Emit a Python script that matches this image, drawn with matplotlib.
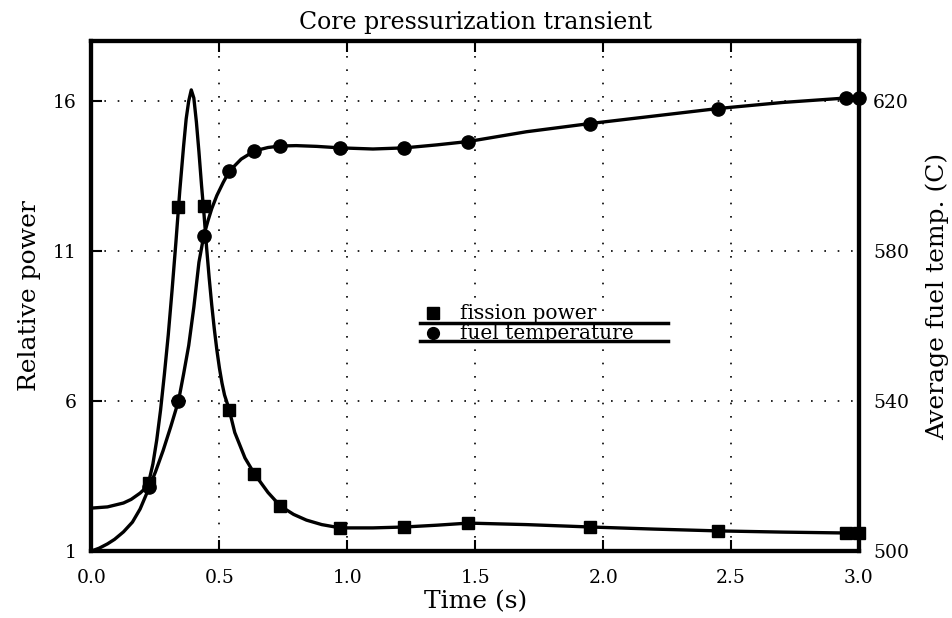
import matplotlib
matplotlib.use("Agg")
import matplotlib.pyplot as plt

# curve samples
power_t = [0.0, 0.0625, 0.125, 0.155, 0.19, 0.205, 0.223, 0.24, 0.255, 0.27, 0.285,
           0.30, 0.315, 0.33, 0.345, 0.36, 0.37, 0.38, 0.39, 0.40, 0.41, 0.42, 0.43,
           0.44, 0.45, 0.46, 0.47, 0.48, 0.49, 0.50, 0.51, 0.52, 0.537, 0.56, 0.60,
           0.637, 0.69, 0.738, 0.79, 0.84, 0.90, 0.973, 1.1, 1.223, 1.35, 1.473,
           1.7, 1.95, 2.2, 2.45, 2.7, 2.95, 3.0]
power = [2.43, 2.47, 2.6, 2.72, 2.93, 3.05, 3.27, 3.9, 4.7, 5.7, 6.9,
         8.2, 9.7, 11.3, 13.0, 14.5, 15.4, 16.0, 16.37, 16.1, 15.3, 14.3, 13.2,
         12.2, 11.1, 10.1, 9.2, 8.4, 7.7, 7.1, 6.6, 6.2, 5.75, 4.95, 4.1,
         3.57, 2.95, 2.5, 2.22, 2.03, 1.88, 1.77, 1.77, 1.8, 1.86, 1.93,
         1.88, 1.8, 1.73, 1.67, 1.63, 1.6, 1.6]

temp_t = [0.0, 0.03, 0.0625, 0.09, 0.125, 0.16, 0.19, 0.223, 0.25, 0.28, 0.31, 0.34,
          0.36, 0.38, 0.40, 0.42, 0.4387, 0.455, 0.47, 0.49, 0.515, 0.539, 0.585,
          0.637, 0.69, 0.738, 0.8, 0.88, 0.973, 1.1, 1.223, 1.35, 1.473, 1.7, 1.95,
          2.2, 2.45, 2.7, 2.95, 3.0]
temp = [500, 500.75, 501.9, 503.1, 505.1, 507.7, 511.2, 516.5, 521.1, 526.8, 533.2, 540,
        547.2, 554.8, 565, 577, 584, 588, 591.3, 594.8, 598.3, 601.3, 604.5,
        606.7, 607.6, 608, 608.1, 607.9, 607.5, 607.2, 607.5, 608.3, 609.2, 611.8, 614,
        616, 618, 619.6, 620.8, 621]

# marker points
mark_t = [0.223, 0.34, 0.4387, 0.537, 0.637, 0.738, 0.973, 1.223, 1.473, 1.95, 2.45, 2.95, 3.0]
power_marks = [3.27, 12.47, 12.5, 5.7, 3.57, 2.5, 1.77, 1.8, 1.93, 1.8, 1.67, 1.6, 1.6]
temp_marks = [517, 540, 584, 601.3, 606.7, 608, 607.5, 607.5, 609, 614, 618, 620.8, 620.8]

xticks = [0.0, 0.5, 1.0, 1.5, 2.0, 2.5, 3.0]
power_ticks = [1, 6, 11, 16]
temp_ticks = [500, 540, 580, 620]

plt.rcParams['font.family'] = 'DejaVu Serif'

fig = plt.figure(figsize=(9.53, 6.18), dpi=100)
ax = fig.add_axes([91.5 / 953, 1 - 551 / 618, (859 - 91.5) / 953, (551 - 41) / 618])
ax2 = ax.twinx()

ax.plot(power_t, power, color='k', lw=2.4)
ax.plot(mark_t, power_marks, 's', color='k', ms=9, clip_on=False)
ax2.plot(temp_t, temp, color='k', lw=2.4)
ax2.plot(mark_t, temp_marks, 'o', color='k', ms=9.5, clip_on=False)

ax.set_xlim(0, 3.0)
ax.set_ylim(1, 18)
ax2.set_ylim(500, 636)

ax.set_xticks(xticks)
ax.set_xticklabels(['%.1f' % v for v in xticks])
ax.set_yticks(power_ticks)
ax2.set_yticks(temp_ticks)

ax.grid(True, color='k', linestyle=(0, (1, 7)), lw=1.2)
ax.tick_params(axis='x', direction='in', length=8, width=1.5, top=True, labelsize=13.5, pad=13)
ax.tick_params(axis='y', direction='in', length=8, width=1.5, labelsize=13.5, pad=11)
ax2.tick_params(axis='y', direction='in', length=0, width=1.5, labelsize=13.5, pad=10)

for a in (ax, ax2):
    for s in a.spines.values():
        s.set_linewidth(3)

ax.set_xlabel('Time (s)', fontsize=18, labelpad=2)
ax.set_ylabel('Relative power', fontsize=18, labelpad=8)
ax2.set_ylabel('Average fuel temp. (C)', fontsize=18, labelpad=12)
ax.set_title('Core pressurization transient', fontsize=17, pad=9)

# legend drawn as in the original: marker, text, rule underneath
tr = ax.transAxes
ax.plot([0.445], [0.467], 's', color='k', ms=8, transform=tr)
ax.text(0.48, 0.465, 'fission power', transform=tr, fontsize=14.5, va='center')
ax.plot([0.428, 0.751], [0.447, 0.447], color='k', lw=2.5, transform=tr)
ax.plot([0.445], [0.427], 'o', color='k', ms=8.5, transform=tr)
ax.text(0.48, 0.427, 'fuel temperature', transform=tr, fontsize=14.5, va='center')
ax.plot([0.428, 0.751], [0.412, 0.412], color='k', lw=2.5, transform=tr)

fig.savefig('out.png', dpi=100)
